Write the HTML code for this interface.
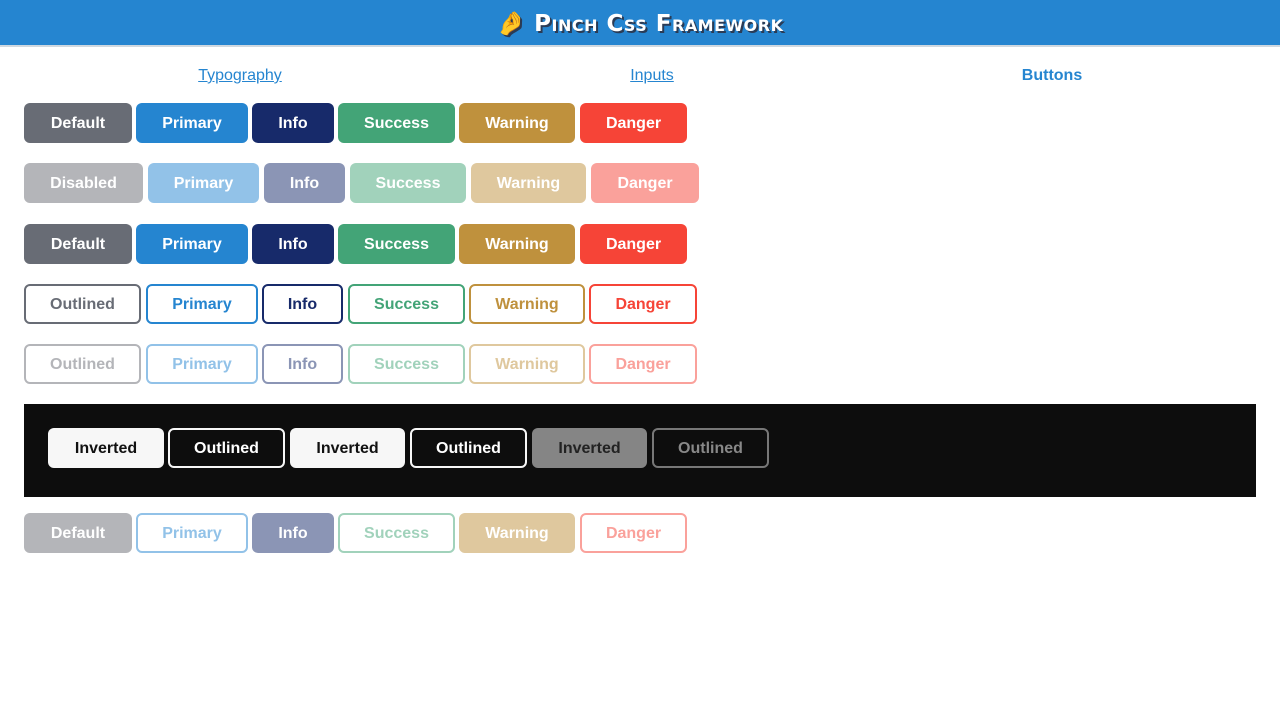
<!DOCTYPE html>
<html><head><meta charset="utf-8"><style>
*{margin:0;padding:0;box-sizing:border-box}
body{width:1280px;height:720px;background:#fff;position:relative;overflow:hidden;font-family:"Liberation Sans",sans-serif}
.hdr{position:absolute;left:0;top:0;width:1280px;height:47px;background:#2585d0;border-bottom:2px solid #cfd8e0}
.title{position:absolute;left:0;width:1280px;top:10px;text-align:center;color:#fff;font-family:"DejaVu Sans","Liberation Sans",sans-serif;font-weight:bold;font-size:23px;font-variant:small-caps;letter-spacing:0.5px;text-shadow:2px 2px 0 #2a3b55}
.lnk{position:absolute;top:67px;font-size:16px;color:#2585d0;text-decoration:underline;transform:translateX(-50%)}
.b{position:absolute;height:40px;border-radius:6px;display:flex;align-items:center;justify-content:center;font-size:16px;font-weight:bold;color:#fff;border:2px solid transparent;padding-top:2px}
.dark{position:absolute;left:24px;top:404px;width:1232px;height:93px;background:#0d0d0d}
</style></head><body>
<div class="hdr"></div>
<div class="title">🤌 Pinch Css Framework</div>
<div class="lnk" style="left:240px">Typography</div>
<div class="lnk" style="left:652px">Inputs</div>
<div class="lnk" style="left:1052px;text-decoration:none;font-weight:bold">Buttons</div>

<div class="b" style="left:24px;top:103px;width:108px;background:#686c75">Default</div>
<div class="b" style="left:136px;top:103px;width:112px;background:#2585d0">Primary</div>
<div class="b" style="left:252px;top:103px;width:82px;background:#172a6a">Info</div>
<div class="b" style="left:338px;top:103px;width:117px;background:#43a477">Success</div>
<div class="b" style="left:459px;top:103px;width:116px;background:#bf913d">Warning</div>
<div class="b" style="left:580px;top:103px;width:107px;background:#f64437">Danger</div>

<div class="b" style="left:24px;top:163px;width:119px;background:#b4b5b9">Disabled</div>
<div class="b" style="left:148px;top:163px;width:111px;background:#92c2e8">Primary</div>
<div class="b" style="left:264px;top:163px;width:81px;background:#8b95b5">Info</div>
<div class="b" style="left:350px;top:163px;width:116px;background:#a1d2bb">Success</div>
<div class="b" style="left:471px;top:163px;width:115px;background:#dfc89e">Warning</div>
<div class="b" style="left:591px;top:163px;width:108px;background:#faa19b">Danger</div>

<div class="b" style="left:24px;top:224px;width:108px;background:#686c75">Default</div>
<div class="b" style="left:136px;top:224px;width:112px;background:#2585d0">Primary</div>
<div class="b" style="left:252px;top:224px;width:82px;background:#172a6a">Info</div>
<div class="b" style="left:338px;top:224px;width:117px;background:#43a477">Success</div>
<div class="b" style="left:459px;top:224px;width:116px;background:#bf913d">Warning</div>
<div class="b" style="left:580px;top:224px;width:107px;background:#f64437">Danger</div>

<div class="b" style="left:24px;top:284px;width:117px;border-color:#686c75;color:#686c75">Outlined</div>
<div class="b" style="left:146px;top:284px;width:112px;border-color:#2585d0;color:#2585d0">Primary</div>
<div class="b" style="left:262px;top:284px;width:81px;border-color:#172a6a;color:#172a6a">Info</div>
<div class="b" style="left:348px;top:284px;width:117px;border-color:#43a477;color:#43a477">Success</div>
<div class="b" style="left:469px;top:284px;width:116px;border-color:#bf913d;color:#bf913d">Warning</div>
<div class="b" style="left:589px;top:284px;width:108px;border-color:#f64437;color:#f64437">Danger</div>

<div class="b" style="left:24px;top:344px;width:117px;border-color:#b4b5b9;color:#b4b5b9">Outlined</div>
<div class="b" style="left:146px;top:344px;width:112px;border-color:#92c2e8;color:#92c2e8">Primary</div>
<div class="b" style="left:262px;top:344px;width:81px;border-color:#8b95b5;color:#8b95b5">Info</div>
<div class="b" style="left:348px;top:344px;width:117px;border-color:#a1d2bb;color:#a1d2bb">Success</div>
<div class="b" style="left:469px;top:344px;width:116px;border-color:#dfc89e;color:#dfc89e">Warning</div>
<div class="b" style="left:589px;top:344px;width:108px;border-color:#faa19b;color:#faa19b">Danger</div>

<div class="dark"></div>
<div class="b" style="left:48px;top:428px;width:116px;background:#f7f7f7;color:#111">Inverted</div>
<div class="b" style="left:168px;top:428px;width:117px;border-color:#f7f7f7;color:#fff;background:#0d0d0d">Outlined</div>
<div class="b" style="left:290px;top:428px;width:115px;background:#f7f7f7;color:#111">Inverted</div>
<div class="b" style="left:410px;top:428px;width:117px;border-color:#f7f7f7;color:#fff;background:#0d0d0d">Outlined</div>
<div class="b" style="left:532px;top:428px;width:115px;background:#858585;color:#222">Inverted</div>
<div class="b" style="left:652px;top:428px;width:117px;border-color:#777;color:#888;background:#0d0d0d">Outlined</div>

<div class="b" style="left:24px;top:513px;width:108px;background:#b4b5b9">Default</div>
<div class="b" style="left:136px;top:513px;width:112px;border-color:#92c2e8;color:#92c2e8">Primary</div>
<div class="b" style="left:252px;top:513px;width:82px;background:#8b95b5">Info</div>
<div class="b" style="left:338px;top:513px;width:117px;border-color:#a1d2bb;color:#a1d2bb">Success</div>
<div class="b" style="left:459px;top:513px;width:116px;background:#dfc89e">Warning</div>
<div class="b" style="left:580px;top:513px;width:107px;border-color:#faa19b;color:#faa19b">Danger</div>
</body></html>
